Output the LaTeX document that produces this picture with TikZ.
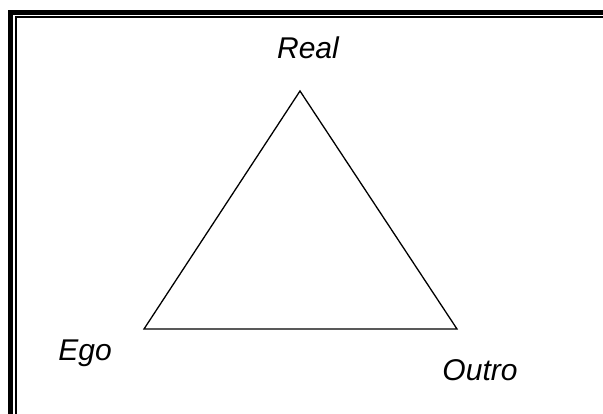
\documentclass[tikz,border=0pt]{standalone}
\usepackage{fontspec}
\setmainfont{Liberation Sans}
\usepackage{tikz}
\usetikzlibrary{positioning, calc}

\begin{document}
\begin{tikzpicture}[x=1pt, y=-1pt,
    vertex/.style={font=\fontsize{30}{34}\selectfont\itshape, inner sep=0pt}]
  \useasboundingbox (0,0) rectangle (603,414);
  % double frame, cut off at right and bottom
  \begin{scope}
    \clip (0,0) rectangle (603,414);
    \draw[line width=5pt] (10.5,12.5) rectangle (640,450);
    \draw[line width=2pt] (16,17) rectangle (630,440);
  \end{scope}
  % triangle corners
  \coordinate (apex) at (300,91);
  \coordinate (left) at (144,329);
  \coordinate (right) at (457,329);
  \draw[line width=1.3pt] (apex) -- (right) -- (left) -- cycle;
  % labels
  \node[vertex] (real) at (308,48) {Real};
  \node[vertex] (ego) at (85,353) {Ego};
  \node[vertex] (outro) at (480,370) {Outro};
\end{tikzpicture}
\end{document}
